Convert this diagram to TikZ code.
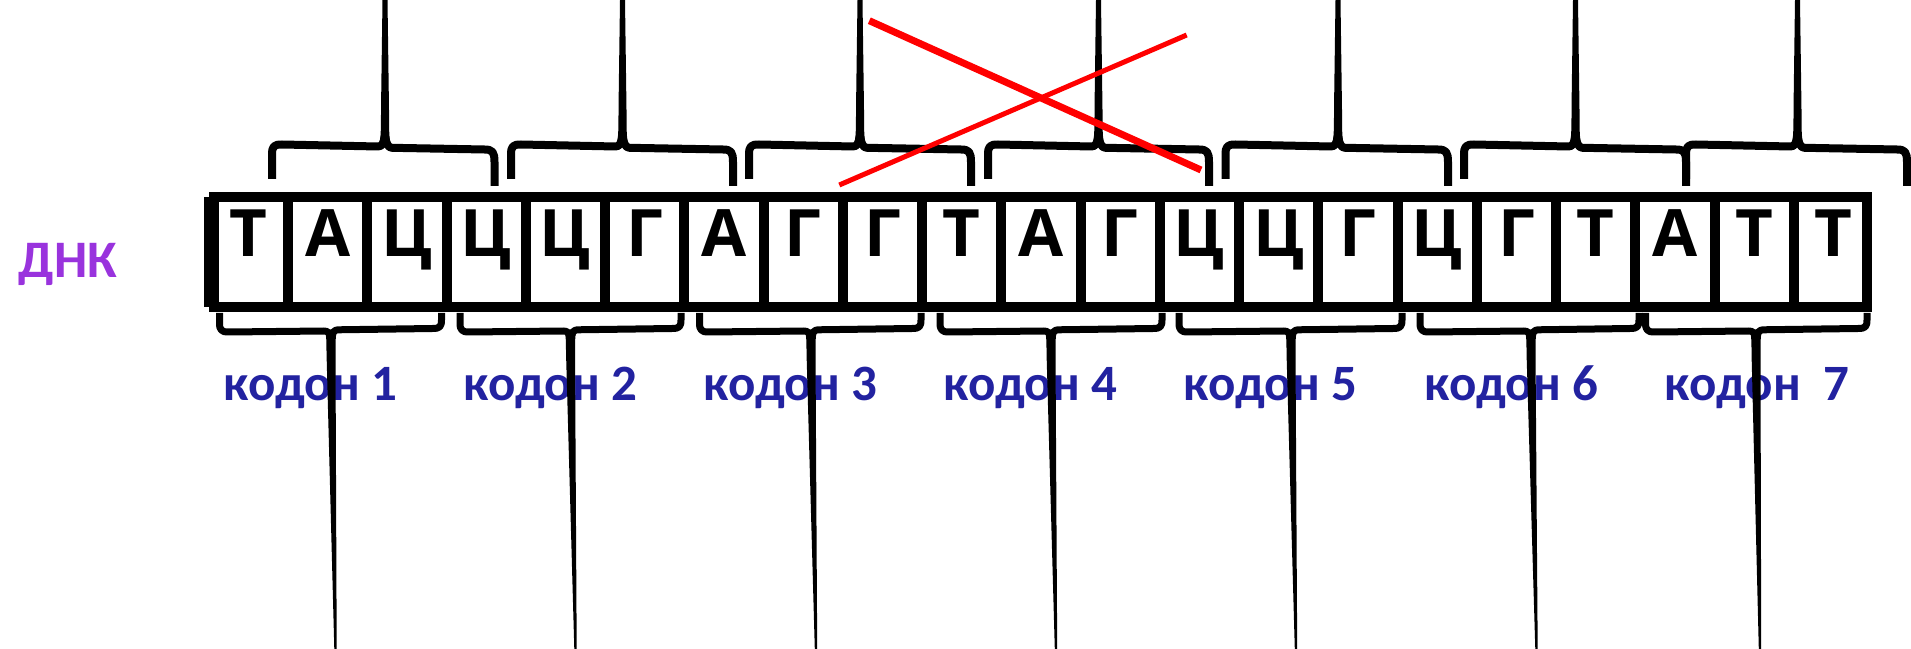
\documentclass[tikz,border=0pt]{standalone}
\usepackage{fontspec}
\setmainfont{Carlito}
\newfontfamily\nucfont{Open Sans}
\usetikzlibrary{calc}
\definecolor{dnkpurple}{RGB}{153,51,221}
\definecolor{codonblue}{RGB}{34,34,160}
\definecolor{crossred}{HTML}{FF0000}
\tikzset{
  nuc/.style={font=\nucfont\bfseries\fontsize{18.6}{20}\selectfont,
    anchor=base, inner sep=0pt},
  codonlbl/.style={font=\bfseries\fontsize{14.5}{16}\selectfont, text=codonblue,
    anchor=base west, inner sep=0pt},
  dnalbl/.style={font=\bfseries\fontsize{15}{17}\selectfont, text=dnkpurple,
    anchor=base west, inner sep=0pt},
  dnaframe/.style={line width=1mm},
  brc/.style={line width=0.8mm, line join=round},
  xline/.style={draw=crossred},
}

\begin{document}
\begin{tikzpicture}[x=0.1mm,y=-0.1mm]
  \useasboundingbox (0,0) rectangle (1911,649);
  \def\pitch{79.25}  % cell width
  % upper braces: left leg / tip / right leg
  \foreach \lx/\mx/\rx in {272/385/494.5, 511/622.5/733, 749/860/971, 988/1098.5/1209,
      1225.5/1338/1448, 1464/1575.5/1686, 1686/1797.5/1907} {
    \draw[brc] (\lx,179) -- (\lx,155) .. controls (\lx,146) and (\lx+2,144.5) .. (\lx+10,144.5)
      -- (\mx-7,146.5) .. controls (\mx-3,146.5) and (\mx-1,143) .. (\mx,136)
      .. controls (\mx+1,143) and (\mx+3,147.8) .. (\mx+7,147.8)
      -- (\rx-10,149.5) .. controls (\rx-2,149.5) and (\rx,152) .. (\rx,162) -- (\rx,186);
    \fill (\mx-8,146) .. controls (\mx-4,144) and (\mx-4,132) .. (\mx-4,110)
      -- (\mx-2.5,0) -- (\mx+2.5,0) -- (\mx+4,110)
      .. controls (\mx+4,132) and (\mx+4,146) .. (\mx+8,148) -- cycle;
  }
  % the strip of cells
  \draw[dnaframe] (214,197) rectangle (1867,307);
  \fill (204,197) rectangle (210,307);
  \foreach \k in {1,...,20}
    \draw[dnaframe] ({288+(\k-1)*\pitch},197) -- ({288+(\k-1)*\pitch},307);
  \foreach \b [count=\i] in {Т,А,Ц,Ц,Ц,Г,А,Г,Г,Т,А,Г,Ц,Ц,Г,Ц,Г,Т,А,Т,Т}
    \node[nuc] (c\i) at ({248.4+(\i-1)*\pitch},256.7) {\b};
  % labels
  \node[dnalbl] (dnk) at (18,278) {ДНК};
  \foreach \x [count=\i] in {223,463,703,943,1183,1424}
    \node[codonlbl] (k\i) at (\x,400.5) {кодон \i};
  \node[codonlbl] (k7) at (1664,400.5) {кодон~~7};
  % lower braces: left leg / tip / right leg / stem foot
  \foreach \lx/\mx/\rx/\bx in {219.5/331/441.5/335.5, 460/570.5/681/575.5,
      699.5/811/921/816, 940/1051/1162/1056, 1179/1291/1402/1296,
      1420/1531/1639/1536.5, 1645.5/1756/1867/1760} {
    \draw[brc, line width=0.7mm] (\lx,313) -- (\lx,323) .. controls (\lx,330) and (\lx+2,332) .. (\lx+9,332)
      -- (\mx-7,331) .. controls (\mx-3,331) and (\mx-1,333) .. (\mx,339)
      .. controls (\mx+1,333) and (\mx+3,329.8) .. (\mx+7,329.8)
      -- (\rx-9,328.5) .. controls (\rx-2,328.5) and (\rx,327) .. (\rx,320) -- (\rx,313);
    \fill (\mx-8,330) .. controls (\mx-4.5,331) and (\mx-4.5,340) .. (\mx-4.5,352)
      -- (\bx-1.2,649) -- (\bx+1.2,649) -- (\mx+4.5,352)
      .. controls (\mx+4.5,340) and (\mx+4.5,330) .. (\mx+8,329) -- cycle;
  }
  % crossed out
  \draw[xline, line width=0.7mm] (869.3,20.7) -- (1201,170);
  \draw[xline, line width=0.5mm] (839.3,185) -- (1186.7,35);
\end{tikzpicture}
\end{document}
